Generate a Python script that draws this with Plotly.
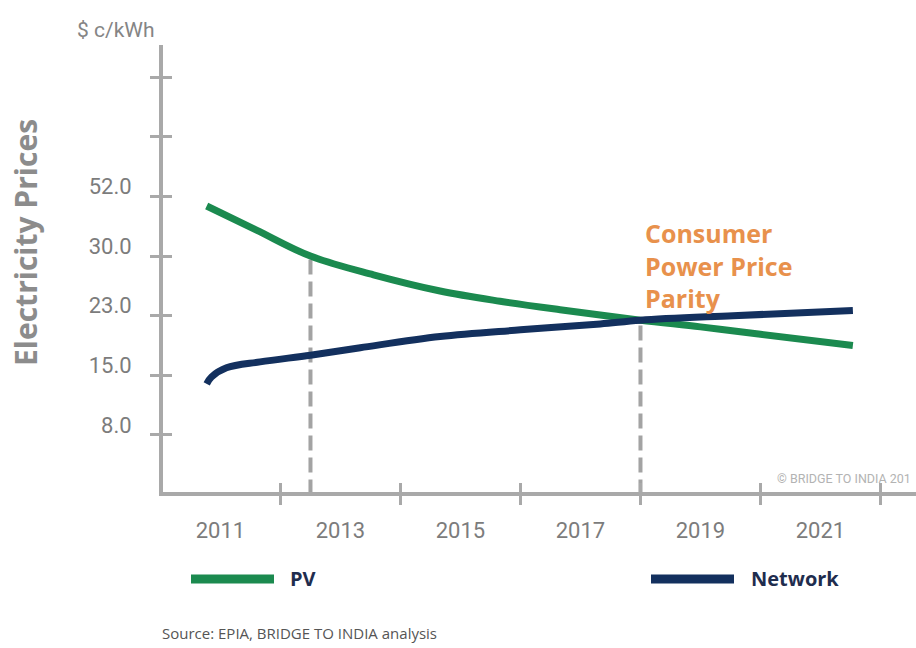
import numpy as np
import plotly.graph_objects as go

# ---- data ----
tick_prices = [8.0, 15.0, 23.0, 30.0, 52.0]          # labelled y ticks (equally spaced on chart)
y_tick_text = ["8.0", "15.0", "23.0", "30.0", "52.0", "", ""]
year_labels = [2011, 2013, 2015, 2017, 2019, 2021]
year_ticks = [2012, 2014, 2016, 2018, 2020, 2022]

pv_years = [2010.77, 2011.6, 2012.5, 2013.55, 2014.66, 2015.66, 2016.66, 2018.0, 2019.0, 2020.0, 2021.54]
pv_prices = [48.5, 39.6, 30.0, 27.8, 25.9, 24.7, 23.7, 22.4, 21.5, 20.5, 19.0]

net_years = [2010.77, 2010.85, 2011.1, 2011.66, 2012.5, 2013.33, 2014.66, 2016.0, 2017.33, 2018.0, 2019.54, 2021.54]
net_prices = [14.0, 14.8, 16.0, 16.8, 17.7, 18.7, 20.2, 21.1, 21.9, 22.4, 23.0, 23.6]

marker_years = [2012.5, 2018.0]          # dashed guide lines
marker_prices = [30.0, 22.4]

# chart scale: labelled prices sit at equally spaced positions 1..5
tick_pos = [1, 2, 3, 4, 5]
def to_pos(vals):
    return np.interp(vals, tick_prices, tick_pos)

GREEN = "#1b8a4f"
NAVY = "#13305e"
AXIS = "#a9a9a9"
GUIDE = "#a3a3a3"
TXT = "#7c7c7c"
FONT_NUM = "Roboto, sans-serif"

fig = go.Figure()

for yr, pr in zip(marker_years, marker_prices):
    fig.add_trace(go.Scatter(x=[yr, yr], y=[0, float(to_pos(pr))], mode="lines",
                             line=dict(color=GUIDE, width=4, dash="15px,7px"),
                             showlegend=False, hoverinfo="skip"))

fig.add_trace(go.Scatter(x=pv_years, y=to_pos(pv_prices), mode="lines", name="PV",
                         line=dict(color=GREEN, width=7, shape="spline", smoothing=1.0),
                         showlegend=False))
fig.add_trace(go.Scatter(x=net_years, y=to_pos(net_prices), mode="lines", name="Network",
                         line=dict(color=NAVY, width=7, shape="spline", smoothing=1.0),
                         showlegend=False))

xr = [2010.042, 2022.592]
yr_ = [0.042, 7.542]

common_x = dict(range=xr, showgrid=False, zeroline=False, showline=True,
                linecolor=AXIS, linewidth=4, fixedrange=True)
common_y = dict(range=yr_, showgrid=False, zeroline=False, showline=True,
                linecolor=AXIS, linewidth=4, fixedrange=True)

fig.update_layout(
    width=916, height=648,
    margin=dict(l=163, r=0, t=45, b=156),
    plot_bgcolor="white", paper_bgcolor="white",
    xaxis=dict(**common_x, tickmode="array", tickvals=year_labels,
               ticktext=[str(y) for y in year_labels], ticks="",
               tickfont=dict(family=FONT_NUM, size=22, color=TXT),
               ticklabelstandoff=16),
    xaxis2=dict(**common_x, overlaying="x", anchor="y", side="bottom",
                tickmode="array", tickvals=year_ticks, ticks="outside",
                ticklen=9, tickwidth=3, tickcolor=AXIS, showticklabels=False),
    xaxis3=dict(**common_x, overlaying="x", anchor="y", side="bottom",
                tickmode="array", tickvals=year_ticks, ticks="inside",
                ticklen=9, tickwidth=3, tickcolor=AXIS, showticklabels=False),
    yaxis=dict(**common_y, tickmode="array", tickvals=[1, 2, 3, 4, 5, 6, 7],
               ticktext=y_tick_text, ticks="outside", ticklen=9, tickwidth=3,
               tickcolor=AXIS, tickfont=dict(family=FONT_NUM, size=22, color=TXT),
               ticklabelshift=-10, ticklabelstandoff=14),
    yaxis2=dict(**common_y, overlaying="y", anchor="x", side="left",
                tickmode="array", tickvals=[1, 2, 3, 4, 5, 6, 7], ticks="inside",
                ticklen=9, tickwidth=3, tickcolor=AXIS, showticklabels=False),
)

# invisible anchors so the overlay axes (tick marks) are drawn
fig.add_trace(go.Scatter(x=[xr[0]], y=[yr_[0]], xaxis="x2", yaxis="y", mode="markers",
                         marker=dict(opacity=0), showlegend=False, hoverinfo="skip"))
fig.add_trace(go.Scatter(x=[xr[0]], y=[yr_[0]], xaxis="x3", yaxis="y2", mode="markers",
                         marker=dict(opacity=0), showlegend=False, hoverinfo="skip"))

def px_x(px):
    return (px - 163) / 753.0
def px_y(py):
    return (492 - py) / 447.0

ann = []
ann.append(dict(text="Electricity Prices", textangle=-90, xref="paper", yref="paper",
                x=px_x(25), y=px_y(243), xanchor="center", yanchor="middle", showarrow=False,
                font=dict(family="Open Sans, Noto Sans, sans-serif", size=30, color="#8c8c8c", weight="bold")))
ann.append(dict(text="$ c/kWh", xref="paper", yref="paper", x=px_x(116), y=px_y(30),
                xanchor="center", yanchor="middle", showarrow=False,
                font=dict(family="Roboto, sans-serif", size=21, color="#858585")))
ann.append(dict(text="Consumer<br>Power Price<br>Parity", xref="x", yref="paper", x=2018.05,
                y=px_y(265), xanchor="left", yanchor="middle", align="left", showarrow=False,
                font=dict(family="Open Sans, sans-serif", size=25, color="#e8914c", weight="bold")))
ann.append(dict(text="© BRIDGE TO INDIA 201", xref="paper", yref="paper", x=px_x(775), y=px_y(478),
                xanchor="left", yanchor="middle", showarrow=False,
                font=dict(family="Roboto, sans-serif", size=12.5, color="#b3b3b3")))
ann.append(dict(text="PV", xref="paper", yref="paper", x=px_x(288), y=px_y(578),
                xanchor="left", yanchor="middle", showarrow=False,
                font=dict(family="Open Sans, sans-serif", size=20, color="#1f2d4e", weight="bold")))
ann.append(dict(text="Network", xref="paper", yref="paper", x=px_x(749), y=px_y(578),
                xanchor="left", yanchor="middle", showarrow=False,
                font=dict(family="Open Sans, sans-serif", size=20, color="#1f2d4e", weight="bold")))
ann.append(dict(text="Source: EPIA, BRIDGE TO INDIA analysis", xref="paper", yref="paper",
                x=px_x(160), y=px_y(633), xanchor="left", yanchor="middle", showarrow=False,
                font=dict(family="Open Sans, sans-serif", size=15, color="#555555")))
fig.update_layout(annotations=ann)

shapes = [
    dict(type="line", xref="paper", yref="paper", x0=px_x(191), x1=px_x(274),
         y0=px_y(579), y1=px_y(579), line=dict(color=GREEN, width=9)),
    dict(type="line", xref="paper", yref="paper", x0=px_x(651), x1=px_x(734),
         y0=px_y(579), y1=px_y(579), line=dict(color=NAVY, width=9)),
]
fig.update_layout(shapes=shapes)

fig.write_html("out.html")
